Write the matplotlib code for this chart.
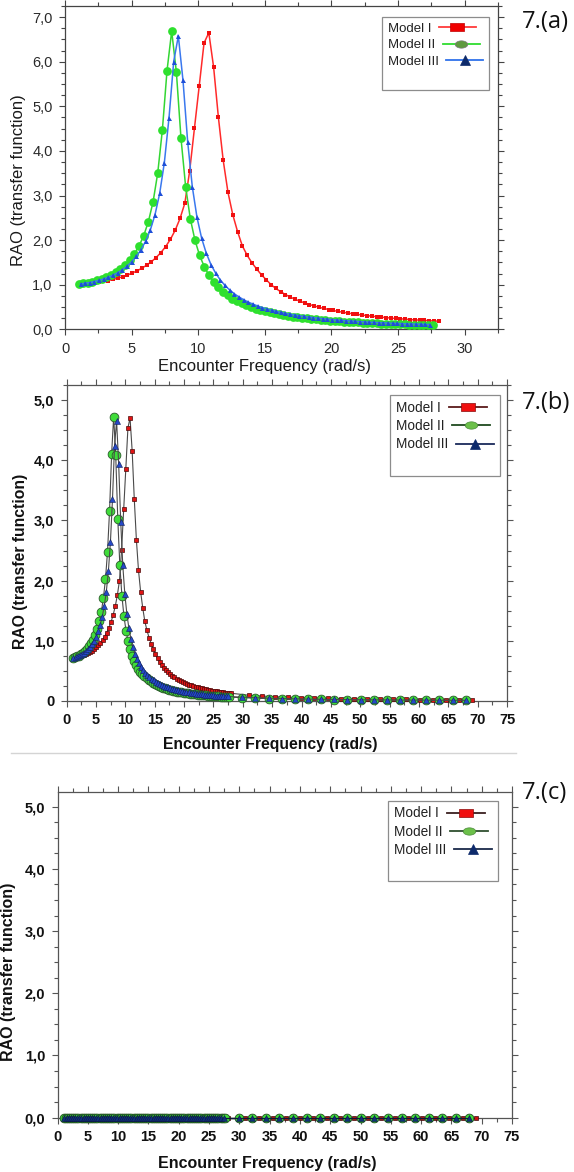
import matplotlib
matplotlib.use("Agg")
import matplotlib.pyplot as plt
import numpy as np
from matplotlib.lines import Line2D
from matplotlib.path import Path
from matplotlib.ticker import MultipleLocator, FuncFormatter

# ---------------- data ----------------
MODELS = ["Model I", "Model II", "Model III"]

FREQ_I = [1.07, 1.43, 1.79, 2.15, 2.51, 2.87, 3.23, 3.59, 3.95, 4.31,
          4.67, 5.03, 5.39, 5.75, 6.11, 6.47, 6.83, 7.19, 7.55, 7.91,
          8.27, 8.63, 8.99, 9.35, 9.71, 10.07, 10.43, 10.79, 11.15, 11.51,
          11.87, 12.23, 12.59, 12.95, 13.31, 13.67, 14.03, 14.39, 14.75, 15.11,
          15.47, 15.83, 16.19, 16.55, 16.91, 17.27, 17.63, 17.99, 18.35, 18.71,
          19.07, 19.43, 19.79, 20.15, 20.51, 20.87, 21.23, 21.59, 21.95, 22.31,
          22.67, 23.03, 23.39, 23.75, 24.11, 24.47, 24.83, 25.19, 25.55, 25.91,
          26.27, 26.63, 26.99, 27.35, 27.71, 28.07]
FREQ_II = [1.00, 1.35, 1.70, 2.05, 2.40, 2.75, 3.10, 3.45, 3.80, 4.15,
           4.50, 4.85, 5.20, 5.55, 5.90, 6.25, 6.60, 6.95, 7.30, 7.65,
           8.00, 8.35, 8.70, 9.05, 9.40, 9.75, 10.10, 10.45, 10.80, 11.15,
           11.50, 11.85, 12.20, 12.55, 12.90, 13.25, 13.60, 13.95, 14.30, 14.65,
           15.00, 15.35, 15.70, 16.05, 16.40, 16.75, 17.10, 17.45, 17.80, 18.15,
           18.50, 18.85, 19.20, 19.55, 19.90, 20.25, 20.60, 20.95, 21.30, 21.65,
           22.00, 22.35, 22.70, 23.05, 23.40, 23.75, 24.10, 24.45, 24.80, 25.15,
           25.50, 25.85, 26.20, 26.55, 26.90, 27.25, 27.60]
FREQ_III = [1.15, 1.50, 1.85, 2.20, 2.55, 2.90, 3.25, 3.60, 3.95, 4.30,
            4.65, 5.00, 5.35, 5.70, 6.05, 6.40, 6.75, 7.10, 7.45, 7.80,
            8.15, 8.50, 8.85, 9.20, 9.55, 9.90, 10.25, 10.60, 10.95, 11.30,
            11.65, 12.00, 12.35, 12.70, 13.05, 13.40, 13.75, 14.10, 14.45, 14.80,
            15.15, 15.50, 15.85, 16.20, 16.55, 16.90, 17.25, 17.60, 17.95, 18.30,
            18.65, 19.00, 19.35, 19.70, 20.05, 20.40, 20.75, 21.10, 21.45, 21.80,
            22.15, 22.50, 22.85, 23.20, 23.55, 23.90, 24.25, 24.60, 24.95, 25.30,
            25.65, 26.00, 26.35, 26.70, 27.05, 27.40]

# panel (a)
RAO_A_I = [1.009, 1.017, 1.027, 1.039, 1.054, 1.072, 1.093, 1.118, 1.146, 1.179,
           1.216, 1.260, 1.310, 1.368, 1.436, 1.515, 1.609, 1.721, 1.856, 2.021,
           2.226, 2.487, 2.830, 3.550, 4.510, 5.460, 6.420, 6.650, 5.880, 4.750,
           3.790, 3.070, 2.570, 2.190, 1.870, 1.660, 1.490, 1.350, 1.220, 1.110,
           1.000, 0.915, 0.842, 0.779, 0.723, 0.674, 0.630, 0.591, 0.555, 0.524,
           0.494, 0.468, 0.444, 0.422, 0.401, 0.382, 0.365, 0.349, 0.334, 0.320,
           0.307, 0.294, 0.283, 0.272, 0.262, 0.252, 0.243, 0.235, 0.227, 0.219,
           0.212, 0.205, 0.199, 0.192, 0.187, 0.181]
RAO_A_II = [1.015, 1.029, 1.046, 1.068, 1.096, 1.130, 1.171, 1.221, 1.281, 1.354,
            1.444, 1.554, 1.693, 1.870, 2.102, 2.416, 2.856, 3.501, 4.470, 5.802,
            6.685, 5.775, 4.282, 3.193, 2.478, 1.996, 1.655, 1.404, 1.212, 1.062,
            0.941, 0.842, 0.759, 0.690, 0.630, 0.579, 0.534, 0.495, 0.460, 0.430,
            0.402, 0.377, 0.355, 0.334, 0.316, 0.299, 0.284, 0.269, 0.256, 0.244,
            0.233, 0.222, 0.213, 0.204, 0.195, 0.187, 0.180, 0.173, 0.166, 0.160,
            0.154, 0.149, 0.144, 0.139, 0.134, 0.130, 0.125, 0.121, 0.118, 0.114,
            0.111, 0.107, 0.104, 0.101, 0.098, 0.095, 0.093]
RAO_A_III = [1.018, 1.032, 1.049, 1.071, 1.098, 1.130, 1.169, 1.215, 1.270, 1.337,
             1.417, 1.515, 1.636, 1.787, 1.980, 2.232, 2.573, 3.050, 3.740, 4.746,
             6.003, 6.579, 5.580, 4.208, 3.195, 2.512, 2.042, 1.705, 1.453, 1.260,
             1.108, 0.984, 0.883, 0.798, 0.726, 0.665, 0.611, 0.565, 0.524, 0.488,
             0.456, 0.427, 0.401, 0.378, 0.356, 0.337, 0.319, 0.303, 0.288, 0.274,
             0.261, 0.249, 0.238, 0.228, 0.218, 0.209, 0.201, 0.193, 0.186, 0.179,
             0.172, 0.166, 0.160, 0.155, 0.149, 0.145, 0.140, 0.135, 0.131, 0.127,
             0.123, 0.119, 0.116, 0.113, 0.109, 0.106]

# panel (b)
RAO_B_I = [0.713, 0.719, 0.726, 0.735, 0.745, 0.758, 0.773, 0.790, 0.810, 0.834,
           0.860, 0.891, 0.926, 0.967, 1.015, 1.071, 1.138, 1.217, 1.312, 1.429,
           1.574, 1.758, 2.001, 2.510, 3.189, 3.860, 4.539, 4.702, 4.157, 3.358,
           2.680, 2.170, 1.817, 1.548, 1.322, 1.174, 1.053, 0.954, 0.863, 0.785,
           0.707, 0.647, 0.595, 0.551, 0.511, 0.477, 0.445, 0.418, 0.392, 0.370,
           0.349, 0.331, 0.314, 0.298, 0.284, 0.270, 0.258, 0.247, 0.236, 0.226,
           0.217, 0.208, 0.200, 0.192, 0.185, 0.178, 0.172, 0.166, 0.160, 0.155,
           0.150, 0.145, 0.141, 0.136, 0.132, 0.128]
RAO_B_II = [0.718, 0.727, 0.740, 0.755, 0.775, 0.799, 0.828, 0.863, 0.906, 0.957,
            1.021, 1.099, 1.197, 1.322, 1.486, 1.708, 2.019, 2.475, 3.160, 4.102,
            4.726, 4.083, 3.027, 2.257, 1.752, 1.411, 1.170, 0.993, 0.857, 0.751,
            0.665, 0.595, 0.537, 0.488, 0.445, 0.409, 0.378, 0.350, 0.325, 0.304,
            0.284, 0.267, 0.251, 0.236, 0.223, 0.211, 0.201, 0.190, 0.181, 0.173,
            0.165, 0.157, 0.151, 0.144, 0.138, 0.132, 0.127, 0.122, 0.117, 0.113,
            0.109, 0.105, 0.102, 0.098, 0.095, 0.092, 0.088, 0.086, 0.083, 0.081,
            0.078, 0.076, 0.074, 0.071, 0.069, 0.067, 0.066]
RAO_B_III = [0.720, 0.730, 0.742, 0.757, 0.776, 0.799, 0.826, 0.859, 0.898, 0.945,
             1.002, 1.071, 1.157, 1.263, 1.400, 1.578, 1.819, 2.156, 2.644, 3.355,
             4.244, 4.651, 3.945, 2.975, 2.259, 1.776, 1.444, 1.205, 1.027, 0.891,
             0.783, 0.696, 0.624, 0.564, 0.513, 0.470, 0.432, 0.399, 0.370, 0.345,
             0.322, 0.302, 0.284, 0.267, 0.252, 0.238, 0.226, 0.214, 0.204, 0.194,
             0.185, 0.176, 0.168, 0.161, 0.154, 0.148, 0.142, 0.136, 0.132, 0.127,
             0.122, 0.117, 0.113, 0.110, 0.105, 0.103, 0.099, 0.095, 0.093, 0.090,
             0.087, 0.084, 0.082, 0.080, 0.077, 0.075]

TAIL_FREQ_I = [31.00, 33.24, 35.48, 37.72, 39.96, 42.20, 44.44, 46.68, 48.92,
               51.16, 53.40, 55.64, 57.88, 60.12, 62.36, 64.60, 66.84, 69.08]
TAIL_FREQ_II_III = [29.90, 32.14, 34.38, 36.62, 38.86, 41.10, 43.34, 45.58, 47.82,
                    50.06, 52.30, 54.54, 56.78, 59.02, 61.26, 63.50, 65.74, 67.98]
RAO_B_TAIL_I = [0.096, 0.082, 0.071, 0.062, 0.055, 0.049, 0.043, 0.039, 0.036,
                0.032, 0.030, 0.027, 0.025, 0.023, 0.021, 0.020, 0.019, 0.017]
RAO_B_TAIL_II = [0.055, 0.047, 0.041, 0.036, 0.032, 0.028, 0.025, 0.023, 0.021,
                 0.019, 0.017, 0.016, 0.015, 0.013, 0.012, 0.012, 0.011, 0.010]
RAO_B_TAIL_III = [0.063, 0.054, 0.047, 0.041, 0.036, 0.032, 0.029, 0.026, 0.023,
                  0.021, 0.019, 0.018, 0.016, 0.015, 0.014, 0.013, 0.012, 0.011]

# panel (c): every response reads 0,0
RAO_C_I = [0.0, 0.0, 0.0, 0.0, 0.0, 0.0, 0.0, 0.0, 0.0, 0.0, 0.0, 0.0, 0.0, 0.0, 0.0, 0.0, 0.0, 0.0, 0.0, 0.0,
           0.0, 0.0, 0.0, 0.0, 0.0, 0.0, 0.0, 0.0, 0.0, 0.0, 0.0, 0.0, 0.0, 0.0, 0.0, 0.0, 0.0, 0.0, 0.0, 0.0,
           0.0, 0.0, 0.0, 0.0, 0.0, 0.0, 0.0, 0.0, 0.0, 0.0, 0.0, 0.0, 0.0, 0.0, 0.0, 0.0, 0.0, 0.0, 0.0, 0.0,
           0.0, 0.0, 0.0, 0.0, 0.0, 0.0, 0.0, 0.0, 0.0, 0.0, 0.0, 0.0, 0.0, 0.0, 0.0, 0.0, 0.0, 0.0, 0.0, 0.0,
           0.0, 0.0, 0.0, 0.0, 0.0, 0.0, 0.0, 0.0, 0.0, 0.0, 0.0, 0.0, 0.0, 0.0]
RAO_C_II = [0.0, 0.0, 0.0, 0.0, 0.0, 0.0, 0.0, 0.0, 0.0, 0.0, 0.0, 0.0, 0.0, 0.0, 0.0, 0.0, 0.0, 0.0, 0.0, 0.0,
            0.0, 0.0, 0.0, 0.0, 0.0, 0.0, 0.0, 0.0, 0.0, 0.0, 0.0, 0.0, 0.0, 0.0, 0.0, 0.0, 0.0, 0.0, 0.0, 0.0,
            0.0, 0.0, 0.0, 0.0, 0.0, 0.0, 0.0, 0.0, 0.0, 0.0, 0.0, 0.0, 0.0, 0.0, 0.0, 0.0, 0.0, 0.0, 0.0, 0.0,
            0.0, 0.0, 0.0, 0.0, 0.0, 0.0, 0.0, 0.0, 0.0, 0.0, 0.0, 0.0, 0.0, 0.0, 0.0, 0.0, 0.0, 0.0, 0.0, 0.0,
            0.0, 0.0, 0.0, 0.0, 0.0, 0.0, 0.0, 0.0, 0.0, 0.0, 0.0, 0.0, 0.0, 0.0, 0.0]
RAO_C_III = [0.0, 0.0, 0.0, 0.0, 0.0, 0.0, 0.0, 0.0, 0.0, 0.0, 0.0, 0.0, 0.0, 0.0, 0.0, 0.0, 0.0, 0.0, 0.0, 0.0,
             0.0, 0.0, 0.0, 0.0, 0.0, 0.0, 0.0, 0.0, 0.0, 0.0, 0.0, 0.0, 0.0, 0.0, 0.0, 0.0, 0.0, 0.0, 0.0, 0.0,
             0.0, 0.0, 0.0, 0.0, 0.0, 0.0, 0.0, 0.0, 0.0, 0.0, 0.0, 0.0, 0.0, 0.0, 0.0, 0.0, 0.0, 0.0, 0.0, 0.0,
             0.0, 0.0, 0.0, 0.0, 0.0, 0.0, 0.0, 0.0, 0.0, 0.0, 0.0, 0.0, 0.0, 0.0, 0.0, 0.0, 0.0, 0.0, 0.0, 0.0,
             0.0, 0.0, 0.0, 0.0, 0.0, 0.0, 0.0, 0.0, 0.0, 0.0, 0.0, 0.0, 0.0, 0.0]

PANEL_TAGS = ["7.(a)", "7.(b)", "7.(c)"]
XLABEL = "Encounter Frequency (rad/s)"
YLABEL = "RAO (transfer function)"

# ---------------- figure ----------------
W, H = 574, 1172
fig = plt.figure(figsize=(W / 100, H / 100), dpi=100)
FONT = "Liberation Sans"


def fx(px):
    return px / W


def fy(py):
    return 1 - py / H


def make_ax(l, t, r, b):
    return fig.add_axes([fx(l), fy(b), fx(r) - fx(l), (b - t) / H])


RECT = Path([(-1.7, -1), (1.7, -1), (1.7, 1), (-1.7, 1), (-1.7, -1)],
            [Path.MOVETO, Path.LINETO, Path.LINETO, Path.LINETO, Path.CLOSEPOLY])
_t = np.linspace(0, 2 * np.pi, 41)
ELLIPSE = Path(np.column_stack([1.45 * np.cos(_t), 0.85 * np.sin(_t)]), closed=True)


def style_axes(ax, xmax, xmaj, ymax, bold, tick_color, zero_label, spine_color, lsize):
    ax.set_xlim(0, xmax)
    ax.set_ylim(0, ymax)
    ax.xaxis.set_major_locator(MultipleLocator(xmaj))
    ax.xaxis.set_minor_locator(MultipleLocator(2.5))
    ax.yaxis.set_major_locator(MultipleLocator(1))
    ax.yaxis.set_minor_locator(MultipleLocator(0.25))

    def yfmt(v, pos):
        if abs(v) < 1e-9:
            return zero_label
        return f"{v:.1f}".replace(".", ",")
    ax.yaxis.set_major_formatter(FuncFormatter(yfmt))
    ax.xaxis.set_major_formatter(FuncFormatter(lambda v, p: f"{v:.0f}"))
    ax.tick_params(which="both", direction="out", top=True, right=True,
                   labeltop=False, labelright=False, color=spine_color, width=0.8)
    ax.tick_params(which="major", length=4, pad=5, labelsize=lsize, labelcolor=tick_color)
    ax.tick_params(which="minor", length=3)
    for lab in ax.get_xticklabels() + ax.get_yticklabels():
        lab.set_fontfamily(FONT)
        lab.set_fontweight("bold" if bold else "normal")
    for s in ax.spines.values():
        s.set_color(spine_color)
        s.set_linewidth(0.9)


def add_legend(ax, left, top, fsize, line_cols, face_cols, edge_cols, text_color):
    markers = [RECT, ELLIPSE, "^"]
    sizes = [10, 9, 7.5]
    handles = []
    for lc, m, ms, fc, ec in zip(line_cols, markers, sizes, face_cols, edge_cols):
        handles.append(Line2D([], [], color=lc, lw=1.3, marker=m, markersize=ms,
                              markerfacecolor=fc, markeredgecolor=ec, markeredgewidth=0.5))
    handles.append(Line2D([], [], lw=0, color="none"))
    leg = ax.legend(handles, MODELS + [" "], loc="upper left",
                    bbox_to_anchor=(fx(left), fy(top)), bbox_transform=fig.transFigure,
                    markerfirst=False, frameon=True, fancybox=False, borderpad=0.42,
                    handlelength=2.8, handletextpad=0.6, labelspacing=0.32,
                    borderaxespad=0, numpoints=1,
                    prop={"family": FONT, "size": fsize})
    for col in leg._legend_handle_box.get_children():
        col.align = "left"
    fr = leg.get_frame()
    fr.set_edgecolor("#8c8c8c")
    fr.set_linewidth(0.9)
    fr.set_facecolor("white")
    fr.set_alpha(1)
    for t in leg.get_texts():
        t.set_color(text_color)
    return leg


# ---------------- panel (a) ----------------
ax = make_ax(65.2, 6, 497.8, 329.3)
ax.plot(FREQ_I, RAO_A_I, color="#ff2a2a", lw=1.1, marker="s", ms=3.0,
        mfc="#f01010", mec="#f01010", mew=0, zorder=3)
ax.plot(FREQ_II, RAO_A_II, color="#33d633", lw=1.1, marker="o", ms=6.3,
        mfc="#2ee02e", mec="#2ee02e", mew=0, zorder=3)
ax.plot(FREQ_III, RAO_A_III, color="#3a78ee", lw=1.1, marker="^", ms=3.6,
        mfc="#1f4fd8", mec="#1f4fd8", mew=0, zorder=3)
style_axes(ax, 32.5, 5, 7.25, False, "#2a2a2a", "0,0", "#444444", 10.5)
ax.set_xlabel(XLABEL, fontfamily=FONT, fontsize=12, color="#1a1a1a", va="center")
ax.set_ylabel(YLABEL, fontfamily=FONT, fontsize=12, color="#1a1a1a", va="center")
ax.xaxis.set_label_coords(0.461, -0.116)
ax.yaxis.set_label_coords(-0.108, 0.462)
add_legend(ax, 382, 17, 9.5,
           ["#ff3a3a", "#2fdc2f", "#2f72ea"],
           ["#f00000", "#5f9a3f", "#0d2a6b"],
           ["#c00000", "#7a7a7a", "#0d2a6b"], "#222222")

# ---------------- panel (b) ----------------
ax = make_ax(66.7, 385, 507, 701)
ax.plot(FREQ_I + TAIL_FREQ_I, RAO_B_I + RAO_B_TAIL_I, color="#4a4a4a", lw=0.8,
        marker="s", ms=3.3, mfc="#e01414", mec="#4a0a0a", mew=0.5, zorder=3, clip_on=False)
ax.plot(FREQ_II + TAIL_FREQ_II_III, RAO_B_II + RAO_B_TAIL_II, color="#4a4a4a", lw=0.8,
        marker="o", ms=6.3, mfc="#3fdc3a", mec="#2a5a2a", mew=0.6, zorder=3, clip_on=False)
ax.plot(FREQ_III + TAIL_FREQ_II_III, RAO_B_III + RAO_B_TAIL_III, color="#4a4a4a", lw=0.8,
        marker="^", ms=3.8, mfc="#2548c8", mec="#10205a", mew=0.4, zorder=3, clip_on=False)
style_axes(ax, 75, 5, 5.25, True, "#111111", "0", "#555555", 10.5)
ax.set_xlabel(XLABEL, fontfamily=FONT, fontsize=11.3, fontweight="bold", color="#111111", va="center")
ax.set_ylabel(YLABEL, fontfamily=FONT, fontsize=11.3, fontweight="bold", color="#111111", va="center")
ax.xaxis.set_label_coords(0.462, -0.139)
ax.yaxis.set_label_coords(-0.106, 0.443)
add_legend(ax, 390, 395, 9.8,
           ["#5a1a1a", "#1f4a1f", "#1a2a5a"],
           ["#f01010", "#6cc04a", "#0d2a6b"],
           ["#8a0a0a", "#4a8a3a", "#0d2a6b"], "#222222")

# ---------------- panel (c) ----------------
ax = make_ax(57.5, 791.7, 512, 1117.7)
ax.plot(FREQ_I + TAIL_FREQ_I, RAO_C_I, color="#3a1a1a", lw=0.9,
        marker="s", ms=3.3, mfc="#c81010", mec="#3a0a0a", mew=0.5, zorder=3, clip_on=False)
ax.plot(FREQ_II + TAIL_FREQ_II_III, RAO_C_II, color="#1f3a1f", lw=0.9,
        marker="o", ms=6.3, mfc="#3fdc3a", mec="#1f4a1f", mew=0.6, zorder=3, clip_on=False)
ax.plot(FREQ_III + TAIL_FREQ_II_III, RAO_C_III, color="#101a3a", lw=0.9,
        marker="^", ms=3.8, mfc="#10307a", mec="#0a1540", mew=0.4, zorder=3, clip_on=False)
style_axes(ax, 75, 5, 5.24, True, "#111111", "0,0", "#555555", 10.5)
ax.set_xlabel(XLABEL, fontfamily=FONT, fontsize=11.5, fontweight="bold", color="#111111", va="center")
ax.set_ylabel(YLABEL, fontfamily=FONT, fontsize=11.5, fontweight="bold", color="#111111", va="center")
ax.xaxis.set_label_coords(0.461, -0.139)
ax.yaxis.set_label_coords(-0.107, 0.447)
add_legend(ax, 388, 800.7, 9.8,
           ["#3a2020", "#2f4f2f", "#1a2a4a"],
           ["#f01010", "#6cc04a", "#0d2a6b"],
           ["#8a0a0a", "#4a8a3a", "#0d2a6b"], "#222222")

# ---------------- figure annotations ----------------
for tag, ypx in zip(PANEL_TAGS, [22.5, 403, 793]):
    fig.text(fx(522), fy(ypx), tag, fontfamily="Open Sans", fontsize=17,
             ha="left", va="center", color="#111111")

fig.add_artist(Line2D([fx(11), fx(516)], [fy(753), fy(753)], color="#d4d4d4", lw=1.0))

fig.savefig("out.png", dpi=100, facecolor="white")
